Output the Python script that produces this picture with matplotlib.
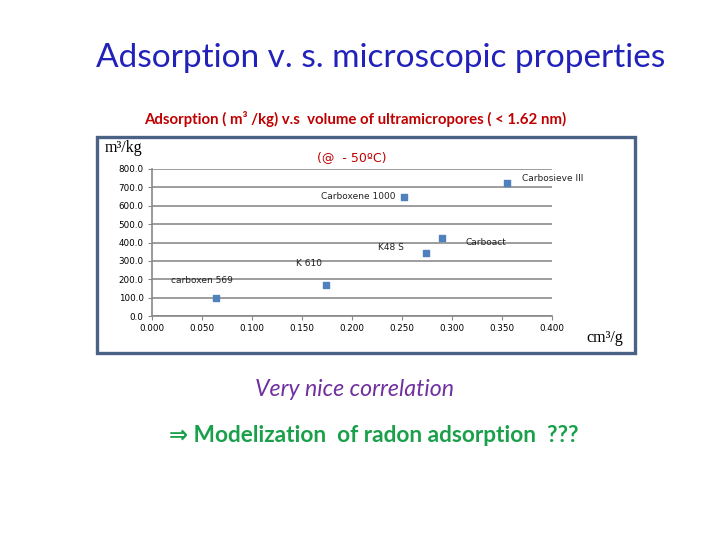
import matplotlib
matplotlib.use('Agg')
import matplotlib.pyplot as plt
from matplotlib.patches import Rectangle

# adsorbents: volume of ultramicropores (cm3/g) vs radon adsorption (m3/kg)
names = ['carboxen 569', 'K 610', 'Carboxene 1000', 'K48 S', 'Carboact', 'Carbosieve III']
volume = [0.064, 0.174, 0.252, 0.274, 0.290, 0.355]
adsorption = [100, 170, 645, 345, 425, 725]

xticks = [0.0, 0.05, 0.10, 0.15, 0.20, 0.25, 0.30, 0.35, 0.40]
xticklabels = ['0.000', '0.050', '0.100', '0.150', '0.200', '0.250', '0.300', '0.350', '0.400']
yticks = [0, 100, 200, 300, 400, 500, 600, 700, 800]

# label offsets in points from each marker (ha, dx, dy)
label_off = [('center', -10, 12), ('center', -12, 15), ('right', -6, 1),
             ('center', -25, 4), ('left', 17, -3), ('left', 11, 3)]

fig = plt.figure(figsize=(7.2, 5.4), dpi=100)
fig.patch.set_facecolor('white')

# slide title
fig.text(0.529, 0.893, 'Adsorption v. s. microscopic properties', ha='center', va='center',
         fontsize=24, color='#2222BB', family='Lato')
fig.text(0.493, 0.780, 'Adsorption ( m³ /kg) v.s  volume of ultramicropores ( < 1.62 nm)',
         ha='center', va='center', fontsize=10.8, color='#C00000', family='Lato', weight='bold')

# chart frame
fig.patches.append(Rectangle((97 / 720, 1 - 353 / 540), 538 / 720, 216 / 540,
                             transform=fig.transFigure, fill=False, edgecolor='#4A6286',
                             linewidth=2.4, zorder=0))

ax = fig.add_axes([152 / 720, 1 - 316 / 540, 400 / 720, 147 / 540])
ax.scatter(volume, adsorption, marker='s', s=22, color='#4F81BD', zorder=3)
for n, x, y, (ha, dx, dy) in zip(names, volume, adsorption, label_off):
    ax.annotate(n, (x, y), xytext=(dx, dy), textcoords='offset points', ha=ha, va='center',
                fontsize=6.5, family='DejaVu Sans', color='#222222')

ax.set_xlim(0, 0.4)
ax.set_ylim(0, 800)
ax.set_xticks(xticks)
ax.set_xticklabels(xticklabels)
ax.set_yticks(yticks)
ax.set_yticklabels(['%.1f' % v for v in yticks])
ax.tick_params(labelsize=6.3, length=3, color='#888888', pad=3)
ax.yaxis.grid(True, color='#8C8C8C', linewidth=1.2)
ax.set_axisbelow(True)
for s in ['top', 'right']:
    ax.spines[s].set_visible(False)
ax.spines['left'].set_color('#888888')
ax.spines['bottom'].set_color('#888888')
ax.spines['left'].set_linewidth(1.2)
ax.spines['bottom'].set_linewidth(1.2)

fig.text(105 / 720, 1 - 148 / 540, 'm³/kg', ha='left', va='center', fontsize=11.5,
         family='Liberation Serif')
fig.text(352 / 720, 1 - 158 / 540, '(@  - 50ºC)', ha='center', va='center', fontsize=9,
         color='#C00000', family='DejaVu Sans')
fig.text(605 / 720, 1 - 338 / 540, 'cm³/g', ha='center', va='center', fontsize=11.5,
         family='Liberation Serif')

fig.text(0.492, 1 - 390 / 540, 'Very nice correlation', ha='center', va='center',
         fontsize=16.7, color='#7030A0', family='Lato', style='italic')
fig.text(0.519, 1 - 436 / 540, '⇒ Modelization  of radon adsorption  ???', ha='center',
         va='center', fontsize=16.3, color='#1AA04A', family=['Lato', 'DejaVu Sans'],
         weight='bold')

fig.savefig('out.png', dpi=100)
